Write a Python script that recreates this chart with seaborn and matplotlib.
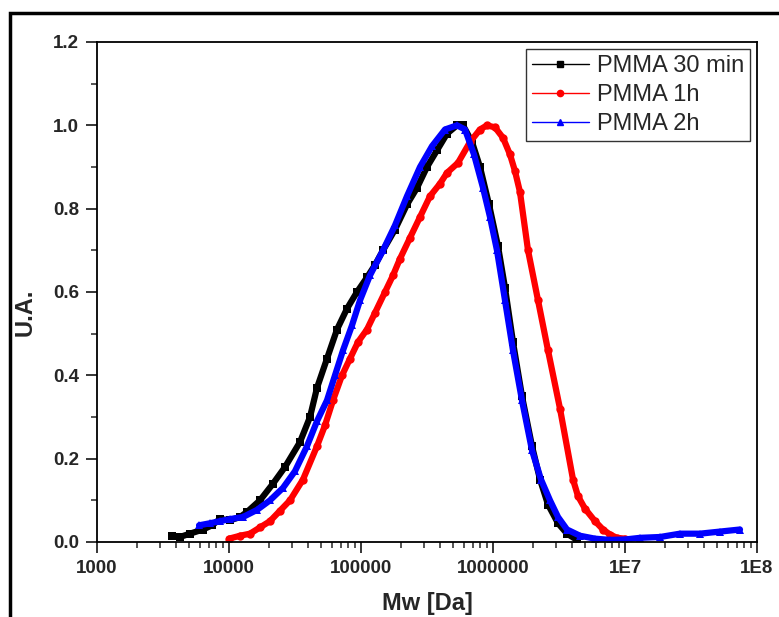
import numpy as np
import matplotlib
matplotlib.use('Agg')
import matplotlib.pyplot as plt
import seaborn as sns
from matplotlib.lines import Line2D
from matplotlib.patches import Rectangle
from matplotlib.ticker import LogLocator, MultipleLocator, NullFormatter

# GPC traces (Mw in Da, normalised signal)
mw_30min = [3700, 4250, 5060, 6350, 7430, 8550, 10180, 12120, 13690, 17170, 21540,
            26560, 34510, 41080, 46420, 55250, 65790, 78330, 93270, 111030, 127700,
            146800, 181000, 223100, 265600, 316200, 376500, 448300, 533800, 592600,
            693400, 797100, 932600, 1091000, 1233000, 1417000, 1658000, 1975000,
            2271000, 2610000, 3108000, 3636000, 4329000]
ua_30min = [0.015, 0.012, 0.02, 0.03, 0.04, 0.055, 0.052, 0.06, 0.072, 0.10, 0.14,
            0.18, 0.24, 0.30, 0.37, 0.44, 0.51, 0.56, 0.60, 0.635, 0.665,
            0.70, 0.75, 0.81, 0.85, 0.90, 0.94, 0.98, 1.0, 1.0,
            0.96, 0.90, 0.81, 0.71, 0.61, 0.48, 0.35, 0.23,
            0.15, 0.09, 0.045, 0.02, 0.005]

mw_1h = [10000, 12120, 14430, 17170, 20450, 24340, 28980, 36360, 46420, 53380,
         61370, 71800, 82540, 94910, 111030, 127700, 152000, 174800, 197500, 235000,
         279900, 333300, 396700, 448300, 543000, 669600, 797100, 900600, 1036000,
         1191000, 1345000, 1468000, 1601000, 1842000, 2193000, 2610000, 3218000,
         4037000, 4405000, 4977000, 5927000, 6813000, 7698000, 8698000, 10000000]
ua_1h = [0.008, 0.015, 0.02, 0.035, 0.05, 0.075, 0.10, 0.15, 0.23, 0.28,
         0.34, 0.40, 0.44, 0.48, 0.51, 0.55, 0.60, 0.64, 0.68, 0.73,
         0.78, 0.83, 0.86, 0.886, 0.91, 0.96, 0.99, 1.0, 0.995,
         0.97, 0.93, 0.89, 0.84, 0.70, 0.58, 0.46, 0.32,
         0.15, 0.11, 0.08, 0.05, 0.03, 0.018, 0.01, 0.008]

mw_2h = [5930, 7180, 8550, 10180, 12770, 16300, 20450, 25660, 31620, 38990,
         46420, 55250, 63530, 73060, 85480, 98270, 117000, 146800, 181000, 223100,
         279900, 345100, 432900, 533800, 613700, 718100, 840000, 949000, 1072000,
         1233000, 1417000, 1658000, 1975000, 2310000, 2703000, 3108000, 3636000,
         4561000, 5927000, 7698000, 10000000, 12990000, 18420000, 26100000,
         37000000, 52450000, 74330000]
ua_2h = [0.04, 0.045, 0.05, 0.055, 0.06, 0.077, 0.10, 0.13, 0.17, 0.23,
         0.29, 0.34, 0.40, 0.46, 0.52, 0.58, 0.64, 0.70, 0.76, 0.83,
         0.90, 0.95, 0.99, 1.0, 0.99, 0.93, 0.85, 0.78, 0.70,
         0.58, 0.46, 0.34, 0.22, 0.15, 0.10, 0.06, 0.03,
         0.015, 0.008, 0.005, 0.006, 0.01, 0.012, 0.02,
         0.02, 0.025, 0.03]

labels = ['PMMA 30 min', 'PMMA 1h', 'PMMA 2h']
colors = ['#000000', '#ff0000', '#0000ff']
markers = ['s', 'o', '^']

x_ticks = [1e3, 1e4, 1e5, 1e6, 1e7, 1e8]
x_tick_labels = ['1000', '10000', '100000', '1000000', '1E7', '1E8']

sns.set_style('ticks')
plt.rcParams['font.family'] = ['Liberation Sans', 'DejaVu Sans']

fig = plt.figure(figsize=(7.79, 6.17), dpi=100)
ax = fig.add_axes([97 / 779, 1 - 542 / 617, 660 / 779, 500 / 617])

series = [(mw_30min, ua_30min), (mw_1h, ua_1h), (mw_2h, ua_2h)]
for (mw, ua), c, m in zip(series, colors, markers):
    sns.lineplot(x=mw, y=ua, color=c, marker=m, markersize=6, markeredgewidth=0,
                 linewidth=4.5, ax=ax, sort=False, estimator=None)

ax.set_xscale('log')
ax.set_xlim(1e3, 1e8)
ax.set_ylim(0, 1.2)
ax.set_xticks(x_ticks)
ax.set_xticklabels(x_tick_labels)
ax.xaxis.set_minor_locator(LogLocator(base=10, subs=np.arange(2, 10)))
ax.xaxis.set_minor_formatter(NullFormatter())
ax.yaxis.set_major_locator(MultipleLocator(0.2))
ax.yaxis.set_minor_locator(MultipleLocator(0.1))
ax.yaxis.set_major_formatter(matplotlib.ticker.FormatStrFormatter('%.1f'))

ax.tick_params(which='major', direction='out', length=8, width=1.3,
               labelsize=13.5, pad=5, top=False, right=False)
ax.tick_params(which='minor', direction='out', length=4, width=1.1,
               top=False, right=False)
for lab in ax.get_xticklabels() + ax.get_yticklabels():
    lab.set_fontweight('bold')

for s in ax.spines.values():
    s.set_visible(True)
    s.set_linewidth(1.3)
    s.set_color('black')

ax.set_xlabel('Mw [Da]', fontsize=17, fontweight='bold', labelpad=11)
ax.set_ylabel('U.A.', fontsize=17, fontweight='bold')
ax.yaxis.set_label_coords(-0.092, 0.46)

handles = [Line2D([], [], color=c, lw=1, marker=m, markersize=4.5)
           for c, m in zip(colors, markers)]
leg = ax.legend(handles, labels, loc='upper right', fontsize=17, frameon=True,
                fancybox=False, shadow=False, borderaxespad=0.3,
                handlelength=2.4, handletextpad=0.35, labelspacing=0.3,
                borderpad=0.25)
leg.get_frame().set_edgecolor('black')
leg.get_frame().set_linewidth(1.0)

# outer frame of the original figure (top and left edges visible)
top = 1 - 13 / 617
fig.patches.append(Rectangle((10 / 779, -0.2), 1.2, top + 0.2,
                             transform=fig.transFigure, fill=False,
                             edgecolor='black', linewidth=2.5))

fig.savefig('out.png', dpi=100)
